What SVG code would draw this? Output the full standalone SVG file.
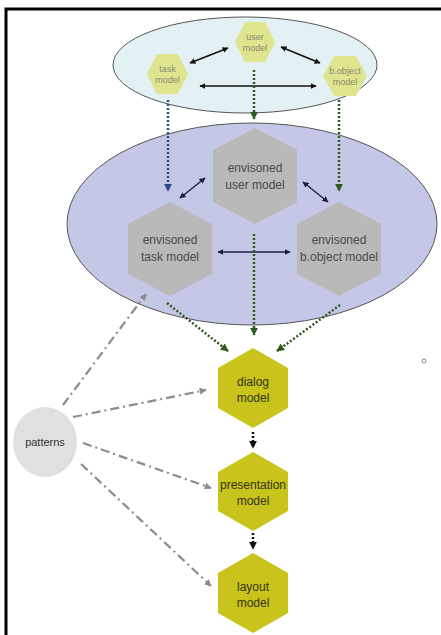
<svg xmlns="http://www.w3.org/2000/svg" width="441" height="635" viewBox="0 0 441 635">
<style>
.t{font-family:"Liberation Sans",Arial,sans-serif;text-anchor:middle}
.sm{font-size:9px;fill:#8a8a70}
.gr{font-size:12px;fill:#4a4a4a}
.yl{font-size:12px;fill:#333311}
.blk{stroke:#111;stroke-width:1.5;fill:none}
.nav{stroke:#1c2040;stroke-width:1.5;fill:none}
.dg{stroke:#2e5a1e;stroke-width:2.5;stroke-dasharray:2 2;fill:none}
.db{stroke:#2c4c8c;stroke-width:2.5;stroke-dasharray:2 2;fill:none}
.dk{stroke:#111;stroke-width:2.5;stroke-dasharray:2 2;fill:none}
.dd{stroke:#8c8c8c;stroke-width:2.2;stroke-dasharray:9 4 2 4;fill:none}
.hs{fill:#dfe58e}
.hg{fill:#b9b9b9}
.hy{fill:#c9c41c}
</style>
<defs>
<marker id="ak" viewBox="0 0 10 10" refX="9" refY="5" markerWidth="6" markerHeight="6" markerUnits="userSpaceOnUse" orient="auto-start-reverse"><path d="M0,0 L10,5 L0,10 z" fill="#111"/></marker>
<marker id="an" viewBox="0 0 10 10" refX="9" refY="5" markerWidth="6" markerHeight="6" markerUnits="userSpaceOnUse" orient="auto-start-reverse"><path d="M0,0 L10,5 L0,10 z" fill="#1c2040"/></marker>
<marker id="ag" viewBox="0 0 10 10" refX="9" refY="5" markerWidth="8" markerHeight="8" markerUnits="userSpaceOnUse" orient="auto"><path d="M0,0 L10,5 L0,10 z" fill="#2e5a1e"/></marker>
<marker id="ab" viewBox="0 0 10 10" refX="9" refY="5" markerWidth="8" markerHeight="8" markerUnits="userSpaceOnUse" orient="auto"><path d="M0,0 L10,5 L0,10 z" fill="#2c4c8c"/></marker>
<marker id="ad" viewBox="0 0 10 10" refX="9" refY="5" markerWidth="8" markerHeight="8" markerUnits="userSpaceOnUse" orient="auto"><path d="M0,0 L10,5 L0,10 z" fill="#111"/></marker>
<marker id="ap" viewBox="0 0 10 10" refX="9" refY="5" markerWidth="7" markerHeight="7" markerUnits="userSpaceOnUse" orient="auto"><path d="M0,0 L10,5 L0,10 z" fill="#8c8c8c"/></marker>
</defs>
<rect width="441" height="635" fill="#fff"/>
<path d="M6,635 V9 H441" stroke="#000" stroke-width="3" fill="none"/>
<circle cx="424" cy="361" r="2" fill="#fff" stroke="#888" stroke-width="1"/>

<g id="top-ellipse"><ellipse cx="245" cy="65" rx="132" ry="48" fill="#e3f1f4" stroke="#555" stroke-width="1"/></g>
<g id="envisioned-ellipse"><ellipse cx="252" cy="224" rx="185" ry="101" fill="#c5c7e6" stroke="#555" stroke-width="1"/></g>

<g id="connectors">
<line class="blk" x1="190" y1="63" x2="228" y2="48" marker-start="url(#ak)" marker-end="url(#ak)"/>
<line class="blk" x1="281" y1="47" x2="320" y2="63" marker-start="url(#ak)" marker-end="url(#ak)"/>
<line class="blk" x1="200" y1="86" x2="316" y2="86" marker-start="url(#ak)" marker-end="url(#ak)"/>
<line class="dg" x1="254" y1="70" x2="254" y2="119" marker-end="url(#ag)"/>
<line class="db" x1="168" y1="100" x2="168" y2="191" marker-end="url(#ab)"/>
<line class="dg" x1="339" y1="100" x2="339" y2="191" marker-end="url(#ag)"/>
<line class="nav" x1="205" y1="178" x2="180" y2="198" marker-start="url(#an)" marker-end="url(#an)"/>
<line class="nav" x1="303" y1="182" x2="328" y2="202" marker-start="url(#an)" marker-end="url(#an)"/>
<line class="nav" x1="218" y1="252" x2="290" y2="252" marker-start="url(#an)" marker-end="url(#an)"/>
<line class="dg" x1="254" y1="234" x2="254" y2="335" marker-end="url(#ag)"/>
<line class="dg" x1="167" y1="303" x2="228" y2="351" marker-end="url(#ag)"/>
<line class="dg" x1="340" y1="305" x2="277" y2="351" marker-end="url(#ag)"/>
<line class="dk" x1="253" y1="432" x2="253" y2="448" marker-end="url(#ad)"/>
<line class="dk" x1="253" y1="533" x2="253" y2="549" marker-end="url(#ad)"/>
<line class="dd" x1="63" y1="405" x2="146" y2="294" marker-end="url(#ap)"/>
<line class="dd" x1="73" y1="417" x2="206" y2="390" marker-end="url(#ap)"/>
<line class="dd" x1="83" y1="443" x2="211" y2="488" marker-end="url(#ap)"/>
<line class="dd" x1="81" y1="464" x2="211" y2="586" marker-end="url(#ap)"/>
</g>

<g id="task-model">
<polygon class="hs" points="147,74 157,54 178,54 188,74 178,94 157,94"/>
<text class="t sm" x="167.5" y="72">task</text><text class="t sm" x="167.5" y="83">model</text>
</g>
<g id="user-model">
<polygon class="hs" points="235,42 245,22 265,22 275,42 265,62 245,62"/>
<text class="t sm" x="255" y="40">user</text><text class="t sm" x="255" y="51">model</text>
</g>
<g id="bobject-model">
<polygon class="hs" points="323,76 334,56 356,56 367,76 356,96 334,96"/>
<text class="t sm" x="345" y="74">b.object</text><text class="t sm" x="345" y="85">model</text>
</g>

<g id="envisioned-user-model">
<polygon class="hg" points="255,128 297,150 297,202 255,224 213,202 213,150"/>
<text class="t gr" x="255" y="172">envisoned</text><text class="t gr" x="255" y="189">user model</text>
</g>
<g id="envisioned-task-model">
<polygon class="hg" points="170,202 212,224 212,274 170,296 128,274 128,224"/>
<text class="t gr" x="170" y="244">envisoned</text><text class="t gr" x="170" y="261">task model</text>
</g>
<g id="envisioned-bobject-model">
<polygon class="hg" points="339,202 381,224 381,274 339,296 297,274 297,224"/>
<text class="t gr" x="339" y="244">envisoned</text><text class="t gr" x="339" y="261">b.object model</text>
</g>

<g id="dialog-model">
<polygon class="hy" points="253,348 288,368 288,408 253,428 218,408 218,368"/>
<text class="t yl" x="253" y="386">dialog</text><text class="t yl" x="253" y="402">model</text>
</g>
<g id="presentation-model">
<polygon class="hy" points="253,452 288,472 288,511 253,531 218,511 218,472"/>
<text class="t yl" x="253" y="489">presentation</text><text class="t yl" x="253" y="505">model</text>
</g>
<g id="layout-model">
<polygon class="hy" points="253,553 288,573 288,613 253,633 218,613 218,573"/>
<text class="t yl" x="253" y="591">layout</text><text class="t yl" x="253" y="607">model</text>
</g>

<g id="patterns">
<ellipse cx="45" cy="442" rx="32" ry="35" fill="#e0e0e0"/>
<text class="t" x="45" y="446" font-size="11" fill="#333">patterns</text>
</g>
</svg>
